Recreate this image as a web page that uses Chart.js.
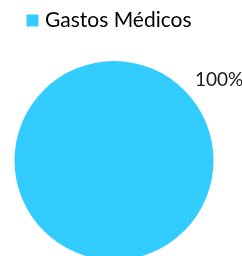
<!DOCTYPE html>
<html><head><meta charset="utf-8">
<script src="https://cdn.jsdelivr.net/npm/chart.js@4/dist/chart.umd.min.js"></script>
<style>html,body{margin:0;padding:0;background:#fff;overflow:hidden}#wrap{width:242px;height:260px}</style>
</head><body><div id="wrap"><canvas id="c"></canvas></div>
<script>
const categories = ["Gastos Médicos"];
const values = [100];
const colors = ["#33CCFF"];
const labelPlugin = {
  id: 'pctLabel',
  afterDatasetsDraw(chart) {
    const ctx = chart.ctx;
    const meta = chart.getDatasetMeta(0);
    const total = values.reduce((a, b) => a + b, 0);
    meta.data.forEach((arc, i) => {
      const pct = Math.round(values[i] / total * 100) + '%';
      const ang = -Math.PI / 2 + Math.PI / 4;
      const r = arc.outerRadius + 15;
      const x = arc.x + Math.cos(ang) * r;
      const y = arc.y + Math.sin(ang) * r;
      ctx.save();
      ctx.font = '19px Lato';
      ctx.fillStyle = '#1a1a1a';
      ctx.textAlign = 'left';
      ctx.textBaseline = 'middle';
      ctx.fillText(pct, x, y);
      ctx.restore();
    });
  }
};
const legendSizer = {
  id: 'legendSizer',
  beforeInit(chart) {
    const lg = chart.legend;
    if (lg) {
      const origFit = lg.fit;
      lg.fit = function () { origFit.call(this); this.height += 20; };
    }
  },
  beforeDraw(chart) {
    const lg = chart.legend;
    if (lg) { lg.left -= 3; lg.right -= 3; }
  }
};
new Chart(document.getElementById('c'), {
  type: 'pie',
  data: { labels: categories, datasets: [{ data: values, backgroundColor: colors, borderWidth: 0 }] },
  options: {
    responsive: true, maintainAspectRatio: false, animation: false,
    layout: { padding: { left: 0, right: 14, top: 0, bottom: 0 } },
    plugins: {
      legend: {
        position: 'top',
        labels: {
          font: { family: 'Lato', size: 21 }, color: '#1a1a1a', boxWidth: 4, boxHeight: 4, padding: 10,
          generateLabels(chart) {
            return categories.map((c, i) => ({
              text: c, fillStyle: colors[i], strokeStyle: colors[i], lineWidth: 8,
              lineJoin: 'miter', hidden: false, index: i
            }));
          }
        }
      },
      tooltip: { enabled: false }
    }
  },
  plugins: [legendSizer, labelPlugin]
});
</script></body></html>
